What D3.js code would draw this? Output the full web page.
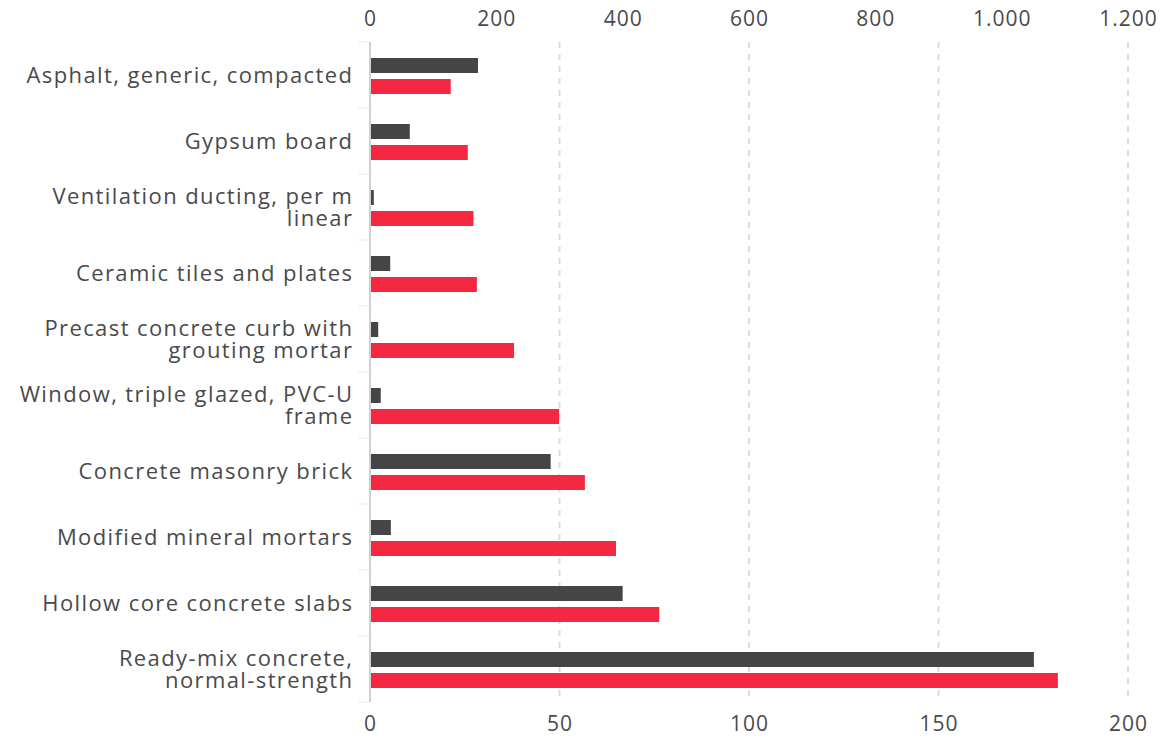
<!DOCTYPE html>
<html>
<head>
<meta charset="utf-8">
<script src="https://cdn.jsdelivr.net/npm/d3@7"></script>
<style>
  html, body { margin: 0; padding: 0; background: #fff; }
  svg { display: block; font-family: "Open Sans", sans-serif; }
</style>
</head>
<body>
<svg id="chart" width="1164" height="738"></svg>
<script>
const categories = [
  "Asphalt, generic, compacted",
  "Gypsum board",
  "Ventilation ducting, per m linear",
  "Ceramic tiles and plates",
  "Precast concrete curb with grouting mortar",
  "Window, triple glazed, PVC-U frame",
  "Concrete masonry brick",
  "Modified mineral mortars",
  "Hollow core concrete slabs",
  "Ready-mix concrete, normal-strength"
];
// dark series, read on the top axis (0–1.200)
const darkValues = [171, 63, 6, 32, 13, 17, 286, 33, 400, 1051];
// red series, read on the bottom axis (0–200)
const redValues = [21.3, 25.8, 27.3, 28.2, 38, 49.9, 56.7, 64.9, 76.3, 181.5];
const topTicks = [0, 200, 400, 600, 800, 1000, 1200];
const bottomTicks = [0, 50, 100, 150, 200];

(function () {
const mL = 370, mR = 1128, mT = 42, mB = 702;
const svg = d3.select("#chart");
const fontSize = 22;
const ls = 1.4;
const textColor = "#4a4a4c";

const xBottom = d3.scaleLinear().domain([0, 200]).range([mL, mR]);
const xTop = d3.scaleLinear().domain([0, 1200]).range([mL, mR]);
const y = d3.scaleBand().domain(categories).range([mT, mB]);
const series = ["dark", "red"];
const y1 = d3.scaleBand().domain(series).range([16, 52]).paddingInner(2 - 36 / 21);

const locale = d3.formatLocale({ decimal: ",", thousands: ".", grouping: [3], currency: ["", ""] });
const fmt = locale.format(",");

// gridlines
svg.append("g").selectAll("line").data(bottomTicks.filter(d => d > 0)).join("line")
  .attr("x1", d => xBottom(d)).attr("x2", d => xBottom(d))
  .attr("y1", mT).attr("y2", mB)
  .attr("stroke", "#dcdcdc").attr("stroke-width", 2).attr("stroke-dasharray", "6,6");

// category tick marks
svg.append("g").selectAll("line").data(d3.range(categories.length + 1)).join("line")
  .attr("x1", mL - 12).attr("x2", mL)
  .attr("y1", i => mT + i * y.step()).attr("y2", i => mT + i * y.step())
  .attr("stroke", "#ebebeb").attr("stroke-width", 1);

// bars
const rows = categories.map((c, i) => ({ c, dark: darkValues[i], red: redValues[i] }));
const g = svg.append("g");
g.selectAll("rect.dark").data(rows).join("rect").attr("class", "dark")
  .attr("x", xTop(0)).attr("y", d => y(d.c) + y1("dark"))
  .attr("width", d => xTop(d.dark) - xTop(0)).attr("height", y1.bandwidth())
  .attr("fill", "#454548");
g.selectAll("rect.red").data(rows).join("rect").attr("class", "red")
  .attr("x", xBottom(0)).attr("y", d => y(d.c) + y1("red"))
  .attr("width", d => xBottom(d.red) - xBottom(0)).attr("height", y1.bandwidth())
  .attr("fill", "#f42840");

// axis line
svg.append("line").attr("x1", mL).attr("x2", mL).attr("y1", mT).attr("y2", mB)
  .attr("stroke", "#d0d0d0").attr("stroke-width", 2);

// top axis
const axTop = svg.append("g").attr("transform", `translate(0,${mT - 16})`)
  .call(d3.axisTop(xTop).tickValues(topTicks).tickFormat(fmt).tickSize(0).tickPadding(0));
axTop.select(".domain").remove();
axTop.selectAll("text").attr("font-size", 21).attr("fill", textColor)
  .attr("font-family", "Open Sans, sans-serif").attr("letter-spacing", 1);

// bottom axis
const axBot = svg.append("g").attr("transform", `translate(0,${mB + 10})`)
  .call(d3.axisBottom(xBottom).tickValues(bottomTicks).tickFormat(fmt).tickSize(0).tickPadding(0));
axBot.select(".domain").remove();
axBot.selectAll("text").attr("font-size", 21).attr("fill", textColor)
  .attr("font-family", "Open Sans, sans-serif").attr("letter-spacing", 1).attr("dy", "0.9em");

// category labels with wrapping
const maxW = 348;
const labels = svg.append("g");
categories.forEach(c => {
  const t = labels.append("text").attr("text-anchor", "end")
    .attr("font-size", fontSize).attr("letter-spacing", ls).attr("fill", textColor);
  const words = c.split(" ");
  const lines = [];
  let cur = [];
  const probe = t.append("tspan");
  words.forEach(w => {
    const test = cur.concat(w).join(" ");
    probe.text(test);
    if (probe.node().getComputedTextLength() > maxW && cur.length) {
      lines.push(cur.join(" "));
      cur = [w];
    } else cur.push(w);
  });
  lines.push(cur.join(" "));
  probe.remove();
  const lh = 22;
  const cy = y(c) + y.bandwidth() / 2;
  lines.forEach((l, k) => {
    t.append("tspan").attr("x", mL - 18 + ls)
      .attr("y", cy + (k - (lines.length - 1) / 2) * lh)
      .attr("dy", "0.35em").text(l);
  });
});
})();
</script>
</body>
</html>
